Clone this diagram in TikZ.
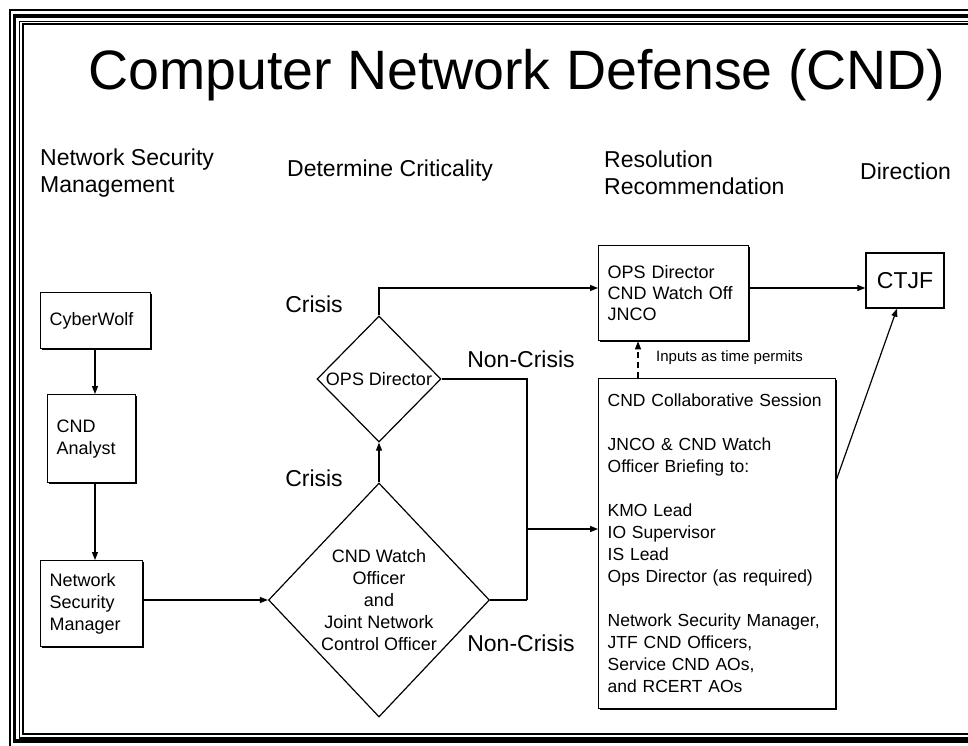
\documentclass[tikz,border=0pt]{standalone}
\usepackage{fontspec}
\setmainfont{Liberation Sans}
\usetikzlibrary{arrows.meta,shapes.geometric,shadows,calc}
\newcommand{\myfs}[2]{\fontsize{#1}{#2}\selectfont}
\begin{document}
\begin{tikzpicture}[x=1pt,y=-1pt,
  box/.style={draw, line width=1.3pt, fill=white, rectangle, inner xsep=9pt, inner ysep=0pt,
    anchor=north west, align=left, font=\myfs{18}{22},
    execute at begin node={\hyphenpenalty=10000},
    drop shadow={shadow xshift=1.3pt, shadow yshift=-1.3pt, opacity=1, fill=black}},
  dia/.style={diamond, draw, line width=1.2pt, inner sep=0pt, fill=white},
  conn/.style={line width=1.2pt},
  arr/.style={conn, -{Triangle[length=8pt,width=6pt]}},
  lab/.style={font=\myfs{23}{27}, inner sep=0pt}
]
\path[use as bounding box, fill=white] (0,0) rectangle (968,745);

% frame
\draw[line width=2pt] (10,10) rectangle (990,760);
\draw[line width=3.5pt] (14.5,16) rectangle (985,741);
\draw[line width=1.4pt] (19.5,21.3) rectangle (978,738);
\draw[line width=2.4pt] (23,24) rectangle (974,734);

% title and headers
\node[anchor=west, inner sep=0pt, font=\myfs{55.5}{60}] (title) at (88,75) {Computer Network Defense (CND)};
\node[lab, anchor=west, align=left] (h1) at (40,173) {Network Security\\Management};
\node[lab, anchor=west] (h2) at (287,171) {Determine Criticality};
\node[lab, anchor=west, align=left] (h3) at (604,173) {Resolution\\Recommendation};
\node[lab, anchor=west] (h4) at (860,171) {Direction};

% boxes
\node[box, text width=92pt, minimum height=56pt] (cyber) at (40,292) {CyberWolf};
\node[box, text width=70pt, minimum height=88pt] (analyst) at (47,394) {CND\\Analyst};
\node[box, text width=84pt, minimum height=86pt] (nsm) at (40,560) {Network\\Security\\Manager};
\node[box, text width=132pt, minimum height=95pt, font=\myfs{18}{21}] (ops) at (598,245) {OPS Director\\CND Watch Off\\JNCO};
\node[box, text width=219pt, minimum height=330pt, font=\myfs{17.5}{22}] (sess) at (598,378) {CND Collaborative Session\\[22pt]JNCO \& CND Watch\\Officer Briefing to:\\[22pt]KMO Lead\\IO Supervisor\\IS Lead\\Ops Director (as required)\\[22pt]Network Security Manager,\\JTF CND Officers,\\Service CND AOs,\\and RCERT AOs};
\node[box, anchor=center, align=center, inner xsep=0pt, minimum width=78pt, minimum height=55pt, font=\myfs{23}{27}] (ctjf) at (905,280.5) {CTJF};

% diamonds
\node[dia, aspect=0.944, minimum width=221pt, minimum height=234pt, align=center, font=\myfs{18}{22}] (low) at (379,600) {CND Watch\\Officer\\and\\Joint Network\\Control Officer};
\node[dia, aspect=1, minimum width=124pt, minimum height=126pt, font=\myfs{18}{22}] (up) at (379,379) {OPS Director};

% labels
\node[lab] (c1) at (314,304) {Crisis};
\node[lab] (c2) at (314,478) {Crisis};
\node[lab] (n1) at (521,359) {Non-Crisis};
\node[lab] (n2) at (521,643) {Non-Crisis};
\node[anchor=west, inner sep=0pt, font=\myfs{15}{18}] (inp) at (656,358) {Inputs as time permits};

% junction coordinates
\coordinate (ax) at (95,348);
\coordinate (jlow) at (527,600);
\coordinate (jm) at (527,529);
\coordinate (jtop) at (379,288);
\coordinate (dsh) at ($(sess.north west)+(40,0)$);
\coordinate (dg) at ($(sess.north east)+(0,102)$);
\coordinate (ctin) at ($(ctjf.south)+(-8,0)$);

% connectors
\draw[arr] (ax) -- (ax |- analyst.north);
\draw[arr] (ax |- analyst.south) -- (ax |- nsm.north);
\draw[arr] (nsm.east |- low.west) -- (low.west);
\draw[arr] (low.north) -- (up.south);
\draw[arr] (up.north) -- (jtop) -- (jtop -| ops.west);
\draw[conn] (up.east) -| (jlow);
\draw[conn] (low.east) -- (jlow);
\draw[arr] (jm) -- (jm -| sess.west);
\draw[arr] (jtop -| ops.east) -- (jtop -| ctjf.west);
\draw[arr, dash pattern=on 6pt off 4pt] (dsh) -- (dsh |- ops.south);
\draw[arr] (dg) -- (ctin);
\end{tikzpicture}
\end{document}
